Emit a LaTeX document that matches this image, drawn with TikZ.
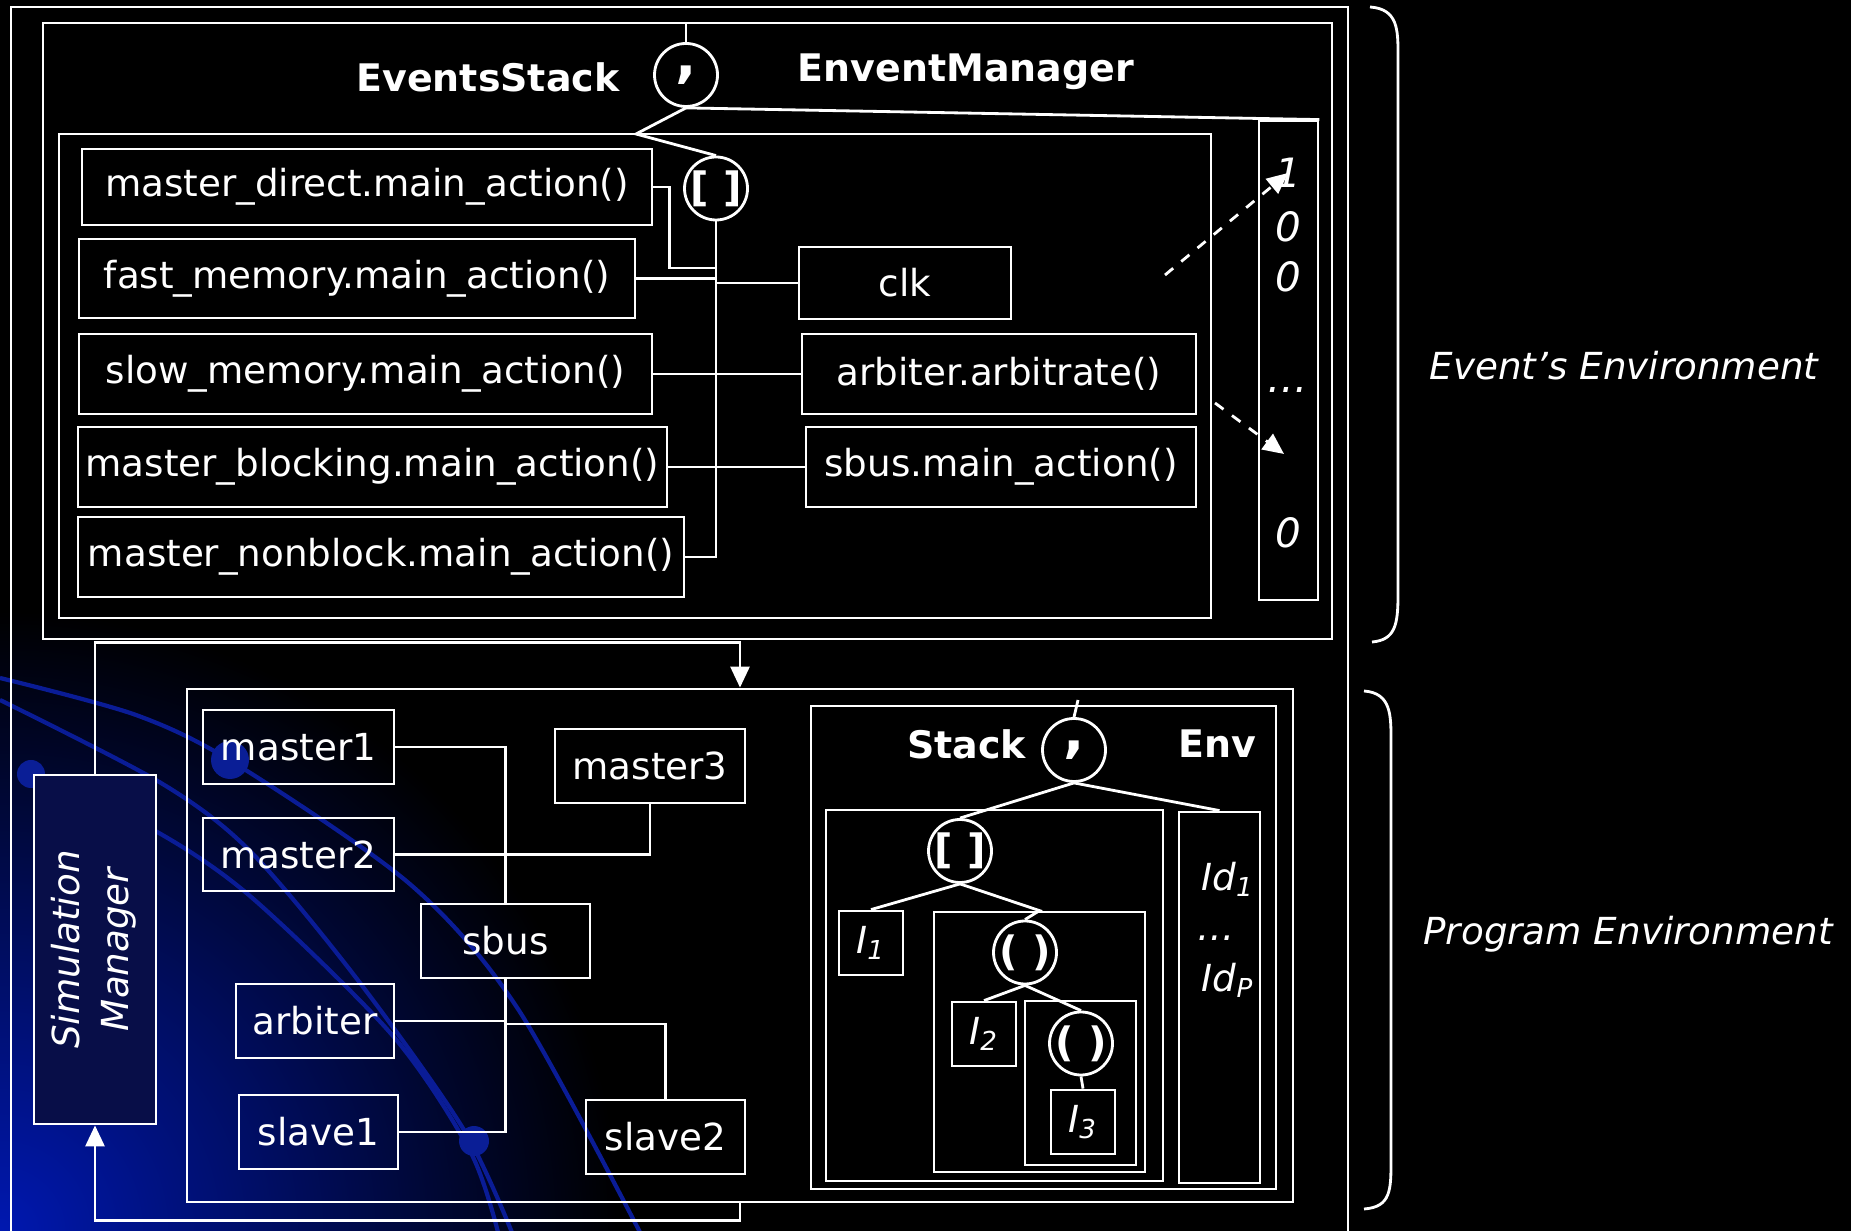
\documentclass[tikz,border=0pt]{standalone}
\usepackage{fontspec}
\setmainfont{DejaVu Sans}
\usepackage{graphicx}
\usetikzlibrary{arrows.meta, positioning}
\definecolor{bgblue}{RGB}{0,24,176}
\definecolor{arcblue}{RGB}{10,28,150}
\definecolor{dotblue}{RGB}{10,30,150}
\definecolor{simfill}{RGB}{8,14,72}

\begin{document}
\begin{tikzpicture}[y=-1cm, color=white, line width=0.8pt,
    box/.style={rectangle, draw=white, inner sep=0pt, font=\fontsize{10.6}{12.7}\selectfont},
    region/.style={rectangle, draw=white, inner sep=0pt},
    op/.style={circle, draw=white, inner sep=0pt, minimum size=0.63cm, font=\fontsize{11.5}{13}\selectfont\bfseries},
    heading/.style={font=\fontsize{10.8}{13}\selectfont\bfseries},
    cell/.style={font=\fontsize{11.5}{13}\selectfont\itshape},
    side/.style={font=\fontsize{10.6}{12.7}\selectfont\itshape},
    arrow/.style={-{Triangle[length=2.1mm, width=1.9mm]}},
    dasharrow/.style={arrow, dashed}
]
\useasboundingbox (0,0) rectangle (18.51,12.31);

% Background
\fill[black] (0,0) rectangle (18.51,12.31);
\begin{scope}
    \clip (0,0) rectangle (18.51,12.31);
    \shade[inner color=bgblue, outer color=black] (0,12.31) circle (6.2cm);
    \draw[arcblue, line width=1.2pt] plot[smooth] coordinates {(0,6.78) (1.36,7.15) (2.36,7.64) (4.11,8.85) (5.18,10.09) (6.44,12.40)};
    \draw[arcblue, line width=1.2pt] plot[smooth] coordinates {(0,7.00) (1.61,7.83) (2.50,8.51) (3.57,9.79) (4.64,11.30) (5.15,12.40)};
    \draw[arcblue, line width=1.2pt] plot[smooth] coordinates {(0.32,7.76) (1.50,8.28) (2.50,8.96) (3.93,10.36) (4.71,11.53) (5.00,12.40)};
    \fill[dotblue] (0.31,7.74) circle (0.14cm);
    \fill[dotblue] (2.30,7.60) circle (0.19cm);
    \fill[dotblue] (4.74,11.41) circle (0.15cm);
\end{scope}

% Outer frame
\draw (0.11,12.31) -- (0.11,0.07) -- (13.48,0.07) -- (13.48,12.31);

% Events frame
\node[region, minimum width=12.89cm, minimum height=6.16cm] (evframe) at (6.875,3.31) {};
\node[heading] at (4.88,0.77) {EventsStack};
\node[heading] at (9.66,0.72) {EnventManager};
\node[op, font=\fontsize{16}{18}\selectfont\bfseries] (evroot) at (6.86,0.75) {,};
\coordinate (evtop) at (6.86,0.23);
\draw (evtop) -- (evroot.north);

\node[region, minimum width=11.52cm, minimum height=4.84cm] (evstack) at (6.35,3.76) {};
\node[op] (evsq) at (7.16,1.885) {[ ]};
\coordinate (evjoin) at (6.36,1.34);
\draw (evroot.south) -- (evjoin) -- (evsq.north);

\node[region, minimum width=0.59cm, minimum height=4.79cm] (emcol) at (12.885,3.605) {};
\draw (evroot.south) -- (emcol.north east);

% Events column
\node[cell] (c1) at (12.88,1.73) {1};
\node[cell] (c2) at (12.88,2.27) {0};
\node[cell] (c3) at (12.88,2.77) {0};
\node[cell] (cdots) at (12.88,3.90) {\dots};
\node[cell] (c5) at (12.88,5.33) {0};

\coordinate (d1) at (11.65,2.75);
\coordinate (d2) at (12.15,4.03);
\coordinate (d2end) at (12.84,4.54);
\draw[dasharrow] (d1) -- (c1.center);
\draw[dasharrow] (d2) -- (d2end);

% Events
\node[box, minimum width=5.70cm, minimum height=0.76cm] (md) at (3.67,1.87) {master\_direct.main\_action()};
\node[box, minimum width=5.56cm, minimum height=0.79cm] (fm) at (3.57,2.785) {fast\_memory.main\_action()};
\node[box, minimum width=5.73cm, minimum height=0.80cm] (sm) at (3.655,3.74) {slow\_memory.main\_action()};
\node[box, minimum width=5.89cm, minimum height=0.80cm] (mb) at (3.725,4.67) {master\_blocking.main\_action()};
\node[box, minimum width=6.06cm, minimum height=0.80cm] (mn) at (3.81,5.57) {master\_nonblock.main\_action()};
\node[box, minimum width=2.12cm, minimum height=0.72cm] (clk) at (9.05,2.83) {clk};
\node[box, minimum width=3.94cm, minimum height=0.80cm] (arb) at (9.99,3.74) {arbiter.arbitrate()};
\node[box, minimum width=3.90cm, minimum height=0.80cm] (sbm) at (10.01,4.67) {sbus.main\_action()};

\draw (evsq.south) |- (mn.east);
\draw (md.east) -- ++(0.16,0) -- ++(0,0.81) -| (evsq.south);
\draw (fm.east) -| (evsq.south);
\draw (clk.west) -| (evsq.south);
\draw (sm.east) -- (arb.west);
\draw (mb.east) -- (sbm.west);

% Braces and side labels
\draw (13.70,0.07) .. controls (13.98,0.09) and (13.98,0.30) .. (13.98,0.55) -- (13.98,5.95) .. controls (13.98,6.25) and (13.95,6.40) .. (13.72,6.42);
\node[side] (evlabel) at (16.24,3.66) {Event’s Environment};
\draw (13.64,6.91) .. controls (13.91,6.93) and (13.91,7.15) .. (13.91,7.40) -- (13.91,11.60) .. controls (13.91,11.90) and (13.91,12.07) .. (13.64,12.09);
\node[side] (prlabel) at (16.28,9.34) {Program Environment};

% Simulation manager
\node[box, fill=simfill, font=\fontsize{10.6}{12.7}\selectfont\itshape, minimum width=1.22cm, minimum height=3.49cm] (sim) at (0.95,9.495)
    {\rotatebox{90}{\begin{tabular}{@{}c@{}}Simulation\\[0.05cm]Manager\end{tabular}}\hspace{0.28cm}};

% Program frame
\node[region, minimum width=11.06cm, minimum height=5.13cm] (pframe) at (7.40,9.455) {};
\draw[arrow] (sim.north) -- ++(0,-1.31) -| (pframe.north);
\draw[arrow] (pframe.south) -- ++(0,0.17) -| (sim.south);

% Components
\node[box, minimum width=1.91cm, minimum height=0.74cm] (m1) at (2.985,7.47) {master1};
\node[box, minimum width=1.91cm, minimum height=0.73cm] (m2) at (2.985,8.545) {master2};
\node[box, minimum width=1.90cm, minimum height=0.74cm] (m3) at (6.50,7.66) {master3};
\node[box, minimum width=1.69cm, minimum height=0.74cm] (sbus) at (5.055,9.41) {sbus};
\node[box, minimum width=1.58cm, minimum height=0.74cm] (arbn) at (3.15,10.21) {arbiter};
\node[box, minimum width=1.59cm, minimum height=0.74cm] (s1) at (3.185,11.32) {slave1};
\node[box, minimum width=1.59cm, minimum height=0.74cm] (s2) at (6.655,11.37) {slave2};

\draw (m1.east) -| (sbus.north);
\draw (m2.east) -| (m3.south);
\draw (sbus.south) |- (s1.east);
\draw (arbn.east) -- (arbn.east -| sbus.south);
\coordinate (pbus) at (5.055,10.24);
\draw (s2.north) |- (pbus);

% Program stack and env
\node[region, minimum width=4.65cm, minimum height=4.83cm] (pouter) at (10.435,9.475) {};
\node[op, font=\fontsize{16}{18}\selectfont\bfseries] (proot) at (10.74,7.50) {,};
\coordinate (ptop) at (10.78,7.00);
\draw (ptop) -- (proot.north);
\node[heading] at (9.665,7.44) {Stack};
\node[heading] at (12.175,7.44) {Env};

\node[region, minimum width=3.37cm, minimum height=3.71cm] (pstack) at (9.945,9.955) {};
\node[region, minimum width=0.81cm, minimum height=3.71cm] (penv) at (12.195,9.975) {};
\node[op] (psq) at (9.60,8.51) {[ ]};
\node[box, minimum size=0.64cm] (i1) at (8.71,9.43) {\itshape I\textsubscript{1}};
\node[region, minimum width=2.11cm, minimum height=2.60cm] (pb2) at (10.395,10.42) {};
\node[op] (pp1) at (10.25,9.525) {( )};
\node[box, minimum size=0.64cm] (i2) at (9.84,10.34) {\itshape I\textsubscript{2}};
\node[region, minimum width=1.11cm, minimum height=1.64cm] (pb3) at (10.805,10.83) {};
\node[op] (pp2) at (10.81,10.435) {( )};
\node[box, minimum size=0.64cm] (i3) at (10.83,11.22) {\itshape I\textsubscript{3}};

\draw (proot.south) -- (psq.north);
\draw (proot.south) -- (penv.north);
\draw (psq.south) -- (i1.north);
\draw (psq.south) -- (pb2.north) -- (pp1.north);
\draw (pp1.south) -- (i2.north);
\draw (pp1.south) -- (pp2.north);
\draw (pp2.south) -- (i3.north);

\node[side] (id1) at (12.28,8.79) {Id\textsubscript{1}};
\node[side] (iddots) at (12.16,9.38) {\dots};
\node[side] (idp) at (12.28,9.80) {Id\textsubscript{P}};

\end{tikzpicture}
\end{document}
